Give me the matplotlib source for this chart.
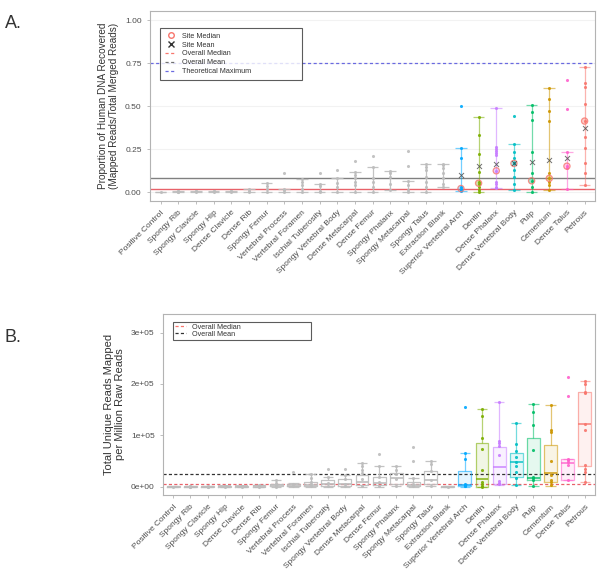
import numpy as np
import matplotlib.pyplot as plt
from matplotlib.lines import Line2D
from matplotlib.colors import to_rgba

plt.rcParams['font.family'] = ['Liberation Sans', 'DejaVu Sans']

# sample sites, in plotting order
sites = ["Positive Control", "Spongy Rib", "Spongy Clavicle", "Spongy Hip", "Dense Clavicle",
         "Dense Rib", "Spongy Femur", "Vertebral Process", "Vertebral Foramen",
         "Ischial Tuberosity", "Spongy Vertebral Body", "Dense Metacarpal", "Dense Femur",
         "Spongy Phalanx", "Spongy Metacarpal", "Spongy Talus", "Extraction Blank",
         "Superior Vertebral Arch", "Dentin", "Dense Phalanx", "Dense Vertebral Body",
         "Pulp", "Cementum", "Dense Talus", "Petrous"]

# colour per site (None = grey)
site_colors = [None] * 17 + ["#00A9FF", "#7CAE00", "#C77CFF", "#00BFC4",
                             "#00BE67", "#CD9600", "#FF61CC", "#F8766D"]

# ---- panel A: proportion of human DNA ----
prop_points = [
    [0.002], [0.001, 0.003, 0.005, 0.006], [0.002, 0.004, 0.006], [0.002, 0.004, 0.007],
    [0.002, 0.005, 0.008], [0.003, 0.008, 0.021], [0.002, 0.02, 0.037, 0.056],
    [0.002, 0.01, 0.016, 0.109], [0.002, 0.02, 0.04, 0.058, 0.076],
    [0.002, 0.005, 0.035, 0.05, 0.114], [0.002, 0.031, 0.054, 0.08, 0.128],
    [0.002, 0.041, 0.06, 0.08, 0.099, 0.118, 0.18], [0.002, 0.031, 0.06, 0.08, 0.147, 0.211],
    [0.012, 0.05, 0.089, 0.109, 0.122], [0.002, 0.012, 0.041, 0.066, 0.153, 0.238],
    [0.002, 0.031, 0.06, 0.089, 0.128, 0.147, 0.161], [0.031, 0.05, 0.08, 0.109, 0.14, 0.155, 0.161],
    [0.503, 0.254, 0.196, 0.03, 0.021, 0.015, 0.008],
    [0.434, 0.331, 0.221, 0.115, 0.06, 0.05, 0.03, 0.015, 0.002],
    [0.49, 0.263, 0.25, 0.24, 0.227, 0.215, 0.124, 0.06, 0.045, 0.031, 0.025],
    [0.443, 0.278, 0.234, 0.2, 0.167, 0.128, 0.089, 0.05, 0.012],
    [0.506, 0.465, 0.419, 0.232, 0.109, 0.066, 0.03, 0.002],
    [0.603, 0.541, 0.474, 0.411, 0.109, 0.08, 0.06, 0.04, 0.012],
    [0.65, 0.486, 0.234, 0.151, 0.14, 0.021],
    [0.729, 0.634, 0.609, 0.51, 0.413, 0.318, 0.254, 0.171, 0.112, 0.041]]
prop_wlo = [0.002, 0.001, 0.002, 0.002, 0.002, 0.003, 0.002, 0.002, 0.002, 0.002, 0.002,
            0.002, 0.002, 0.012, 0.002, 0.002, 0.031,
            0.008, 0.002, 0.025, 0.012, 0.002, 0.012, 0.021, 0.041]
prop_whi = [0.002, 0.006, 0.006, 0.007, 0.008, 0.021, 0.056, 0.016, 0.076, 0.05, 0.08,
            0.118, 0.147, 0.122, 0.066, 0.161, 0.161,
            0.256, 0.436, 0.49, 0.278, 0.506, 0.603, 0.234, 0.729]
site_median = [0.021, 0.052, 0.124, 0.167, 0.066, 0.08, 0.151, 0.413]
site_mean = [0.099, 0.152, 0.161, 0.167, 0.173, 0.186, 0.201, 0.37]
prop_overall_median = 0.021
prop_overall_mean = 0.08
theoretical_max = 0.75

# ---- panel B: unique reads per million raw reads (in 1e5) ----
reads_points = [
    [0.004], [0.002, 0.004, 0.006, 0.008], [0.002, 0.005, 0.01], [0.002, 0.006, 0.012],
    [0.003, 0.008, 0.015], [0.004, 0.01, 0.04], [0.005, 0.03, 0.07, 0.13],
    [0.01, 0.05, 0.28], [0.01, 0.05, 0.1, 0.18, 0.24], [0.01, 0.08, 0.2, 0.34],
    [0.01, 0.06, 0.15, 0.23, 0.34], [0.01, 0.15, 0.27, 0.33, 0.4, 0.47],
    [0.01, 0.1, 0.2, 0.4, 0.63], [0.01, 0.15, 0.25, 0.33, 0.4],
    [0.01, 0.06, 0.17, 0.5, 0.78], [0.02, 0.13, 0.3, 0.45, 0.5], [0.005],
    [1.56, 0.65, 0.55, 0.06, 0.04, 0.02, 0.01],
    [1.51, 1.37, 0.94, 0.74, 0.33, 0.1, 0.05, 0.02, 0.0],
    [1.65, 0.9, 0.85, 0.8, 0.62, 0.12, 0.08, 0.05],
    [1.24, 0.83, 0.7, 0.58, 0.49, 0.4, 0.28, 0.18, 0.04],
    [1.62, 1.46, 1.21, 0.71, 0.2, 0.17, 0.13, 0.006],
    [1.6, 1.1, 1.06, 0.51, 0.22, 0.14, 0.1, 0.03],
    [2.13, 1.77, 0.55, 0.52, 0.48, 0.43, 0.13],
    [2.06, 2.0, 1.85, 1.82, 1.22, 1.1, 0.42, 0.35, 0.29, 0.1]]
reads_q1 = [0.0, 0.002, 0.002, 0.002, 0.003, 0.004, 0.01, 0.01, 0.01, 0.01, 0.02, 0.03, 0.03,
            0.05, 0.02, 0.05, 0.002, 0.006, 0.0, 0.05, 0.2, 0.13, 0.1, 0.13, 0.4]
reads_med = [0.003, 0.004, 0.005, 0.006, 0.008, 0.01, 0.03, 0.02, 0.04, 0.05, 0.06, 0.1, 0.08,
             0.17, 0.04, 0.13, 0.005, 0.04, 0.15, 0.39, 0.49, 0.17, 0.26, 0.46, 1.22]
reads_q3 = [0.006, 0.008, 0.01, 0.012, 0.015, 0.03, 0.06, 0.05, 0.1, 0.13, 0.15, 0.22, 0.2,
            0.26, 0.1, 0.31, 0.01, 0.31, 0.85, 0.78, 0.65, 0.94, 0.82, 0.55, 1.85]
reads_wlo = [0.0, 0.002, 0.002, 0.002, 0.003, 0.004, 0.005, 0.005, 0.005, 0.005, 0.005, 0.005,
             0.005, 0.01, 0.005, 0.01, 0.002, 0.0, 0.0, 0.03, 0.03, 0.006, 0.02, 0.13, 0.1]
reads_whi = [0.008, 0.008, 0.01, 0.012, 0.015, 0.04, 0.13, 0.08, 0.24, 0.2, 0.23, 0.47, 0.4,
             0.4, 0.17, 0.5, 0.01, 0.65, 1.51, 1.65, 1.24, 1.62, 1.6, 0.55, 2.06]
reads_overall_median = 0.045
reads_overall_mean = 0.24

GREY = "#bdbdbd"
TXT = "#4d4d4d"
x = np.arange(1, len(sites) + 1)

fig = plt.figure(figsize=(6, 5.87), dpi=100)
axA = fig.add_axes([0.25, 0.658, 0.742, 0.3225])
axB = fig.add_axes([0.2717, 0.1567, 0.7203, 0.3083])


def style(ax):
    for s in ax.spines.values():
        s.set_color("#b3b3b3")
        s.set_linewidth(0.8)
    ax.tick_params(axis='both', colors="#b3b3b3", labelcolor=TXT, labelsize=6, length=2.5, width=0.6)
    ax.set_xlim(0.4, len(sites) + 0.6)
    ax.set_xticks(x)
    ax.set_xticklabels(sites, rotation=45, ha='right', rotation_mode='anchor', fontsize=6)


# ---- panel A ----
style(axA)
axA.set_ylim(-0.05, 1.05)
axA.set_yticks([0, 0.25, 0.5, 0.75, 1.0])
axA.set_yticklabels(["0.00", "0.25", "0.50", "0.75", "1.00"])
axA.grid(axis='y', color="#f2f2f2", linewidth=0.8)
axA.set_axisbelow(True)

axA.axhline(theoretical_max, color="#6a6ae0", linestyle=(0, (2.5, 2)), linewidth=0.9)
axA.axhline(prop_overall_mean, color="#808080", linewidth=1.0)
axA.axhline(prop_overall_median, color="#e8626a", linewidth=1.0)

for i, (pts, lo, hi, col) in enumerate(zip(prop_points, prop_wlo, prop_whi, site_colors)):
    c = col if col else GREY
    a = 0.55 if col else 0.9
    axA.vlines(x[i], lo, hi, color=c, alpha=a, linewidth=0.9)
    axA.hlines([lo, hi], x[i] - 0.33, x[i] + 0.33, color=c, alpha=a, linewidth=0.9)
    axA.scatter(np.full(len(pts), x[i]), pts, s=5, color=c, alpha=0.9, linewidths=0, zorder=3)

col_x = x[17:]
axA.scatter(col_x, site_median, s=20, facecolors=[to_rgba(c, 0.35) for c in site_colors[17:]],
            edgecolors=to_rgba("#F8766D", 0.8), linewidths=0.9, zorder=4)
axA.scatter(col_x, site_mean, s=13, marker='x', color="#333333", alpha=0.7, linewidths=0.7, zorder=5)

axA.set_ylabel("Proportion of Human DNA Recovered\n(Mapped Reads/Total Merged Reads)",
               fontsize=7.2, color="#333333", labelpad=4)

hA = [Line2D([], [], marker='o', linestyle='none', markerfacecolor='none', markeredgecolor="#F8766D",
             markersize=4, label="Site Median"),
      Line2D([], [], marker='x', linestyle='none', color="#333333", markersize=4, label="Site Mean"),
      Line2D([], [], color="#F8766D", linestyle=(0, (2.5, 2)), linewidth=0.9, label="Overall Median"),
      Line2D([], [], color="#707070", linestyle=(0, (2.5, 2)), linewidth=0.9, label="Overall Mean"),
      Line2D([], [], color="#6a6ae0", linestyle=(0, (2.5, 2)), linewidth=0.9, label="Theoretical Maximum")]
legA = axA.legend(handles=hA, loc='upper left', bbox_to_anchor=(0.022, 0.915, 0.32, 0.0),
                  mode='expand', fontsize=5.2, frameon=True, fancybox=False, handlelength=1.6,
                  labelspacing=0.25, borderpad=0.7, handletextpad=0.8, borderaxespad=0)
legA.get_frame().set_edgecolor("#333333")
legA.get_frame().set_linewidth(0.8)
for t in legA.get_texts():
    t.set_color("#333333")

# ---- panel B ----
style(axB)
axB.set_ylim(-0.16, 3.36)
axB.set_yticks([0, 1, 2, 3])
axB.set_yticklabels(["0e+00", "1e+05", "2e+05", "3e+05"])

axB.axhline(reads_overall_mean, color="#333333", linestyle=(0, (2.5, 1.8)), linewidth=0.9)
axB.axhline(reads_overall_median, color="#e8626a", linestyle=(0, (2.5, 1.8)), linewidth=0.9)

for i in range(len(sites)):
    col = site_colors[i]
    c = col if col else GREY
    a = 0.55 if col else 0.9
    w = 0.375
    axB.fill_between([x[i] - w, x[i] + w], reads_q1[i], reads_q3[i],
                     color=c if col else "none", alpha=0.1, linewidth=0)
    axB.plot([x[i] - w, x[i] + w, x[i] + w, x[i] - w, x[i] - w],
             [reads_q1[i], reads_q1[i], reads_q3[i], reads_q3[i], reads_q1[i]],
             color=c, alpha=a, linewidth=0.9)
    axB.hlines(reads_med[i], x[i] - w, x[i] + w, color=c, alpha=min(1, a + 0.3), linewidth=1.2)
    axB.vlines(x[i], reads_q3[i], reads_whi[i], color=c, alpha=a, linewidth=0.9)
    axB.vlines(x[i], reads_wlo[i], reads_q1[i], color=c, alpha=a, linewidth=0.9)
    axB.hlines([reads_wlo[i], reads_whi[i]], x[i] - 0.3, x[i] + 0.3, color=c, alpha=a, linewidth=0.9)
    pts = reads_points[i]
    axB.scatter(np.full(len(pts), x[i]), pts, s=5, color=c, alpha=0.9, linewidths=0, zorder=3)

axB.set_ylabel("Total Unique Reads Mapped\nper Million Raw Reads", fontsize=8, color="#333333", labelpad=4)

hB = [Line2D([], [], color="#F8766D", linestyle=(0, (2.5, 1.8)), linewidth=0.9, label="Overall Median"),
      Line2D([], [], color="#333333", linestyle=(0, (2.5, 1.8)), linewidth=0.9, label="Overall Mean")]
legB = axB.legend(handles=hB, loc='upper left', bbox_to_anchor=(0.023, 0.956, 0.32, 0.0),
                  mode='expand', fontsize=5.2, frameon=True, fancybox=False, handlelength=1.6,
                  labelspacing=0.0, borderpad=0.25, handletextpad=0.8, borderaxespad=0)
legB.get_frame().set_edgecolor("#333333")
legB.get_frame().set_linewidth(0.8)
for t in legB.get_texts():
    t.set_color("#333333")

fig.text(0.008, 0.975, "A.", fontsize=13, color="#333333", va='top')
fig.text(0.008, 0.44, "B.", fontsize=13, color="#333333", va='top')

fig.savefig("out.png", dpi=100)
